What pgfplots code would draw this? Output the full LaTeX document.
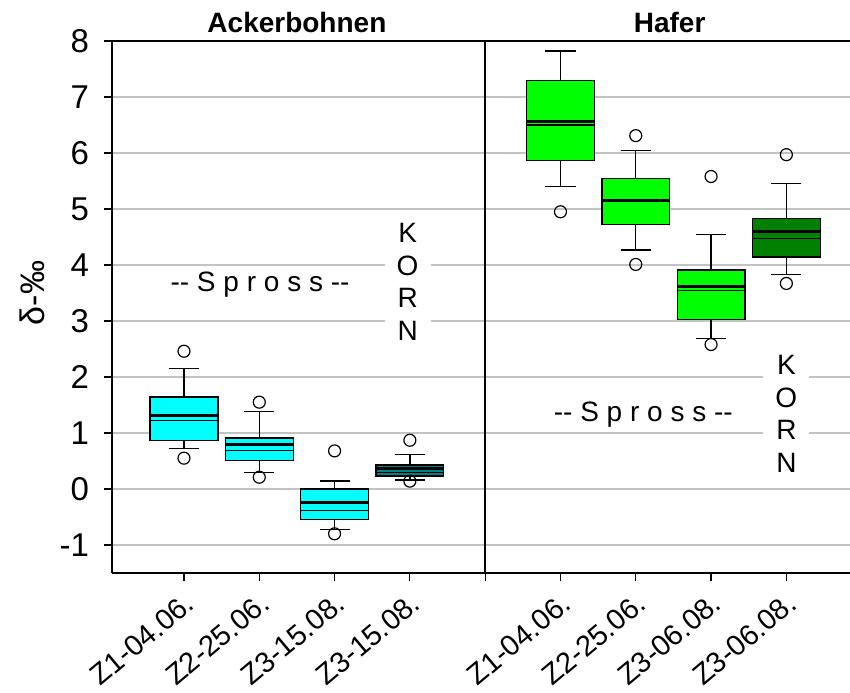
\documentclass[border=0pt]{standalone}
\usepackage{fontspec}
\setmainfont{Liberation Sans}
\usepackage{pgfplots}
\pgfplotsset{compat=1.18}
\usepgfplotslibrary{statistics}
\usetikzlibrary{calc}
\definecolor{cyanbox}{RGB}{0,255,255}
\definecolor{tealbox}{RGB}{0,128,128}
\definecolor{greenbox}{RGB}{0,255,0}
\definecolor{dgreenbox}{RGB}{0,128,0}
\definecolor{gridgray}{RGB}{195,195,195}
\pgfplotsset{mybox/.style={draw=black, line width=0.65pt, fill=#1, mark=o, mark size=3pt,
  mark options={fill=none, draw=black, line width=0.6pt, solid}}}
\begin{document}
\begin{tikzpicture}
\begin{axis}[
  scale only axis, width=369pt, height=266pt,
  xmin=-0.956, xmax=8.845, ymin=-1.5, ymax=8,
  axis x line*=bottom, axis y line*=left,
  axis line style={-, line width=0.7pt, black},
  x axis line style={-}, y axis line style={-},
  xtick={0,1,2,3,4,5,6,7,8},
  xticklabels={Z1-04.06.,Z2-25.06.,Z3-15.08.,Z3-15.08.,,Z1-04.06.,Z2-25.06.,Z3-06.08.,Z3-06.08.},
  ytick={-1,0,1,2,3,4,5,6,7,8},
  tick align=outside, major tick length=4pt,
  tick style={black, line width=0.6pt},
  ymajorgrids, major grid style={gridgray, line width=0.6pt},
  /pgf/number format/assume math mode=true,
  yticklabel style={font=\fontsize{16.5}{18}\selectfont, xshift=-4pt},
  xticklabel style={font=\fontsize{14.5}{16}\selectfont, rotate=40, anchor=north east, inner sep=0.5pt, xshift=-3pt, yshift=-3pt},
  boxplot/draw direction=y,
  boxplot/box extend=0.9,
  boxplot/whisker extend=0.4,
  boxplot/every median/.style={line width=1.5pt},
  boxplot/draw/average/.code={\draw[line width=0.6pt] (boxplot box cs:\pgfplotsboxplotvalue{average},0) -- (boxplot box cs:\pgfplotsboxplotvalue{average},1);},
  clip=false,
]
% Ackerbohnen
\addplot[mybox=cyanbox, boxplot prepared={draw position=0, lower whisker=0.72, lower quartile=0.87, median=1.32, average=1.23, upper quartile=1.64, upper whisker=2.15}]
  table[row sep=\\, y index=0] {data\\ 2.46\\ 0.55\\};
\addplot[mybox=cyanbox, boxplot prepared={draw position=1, lower whisker=0.29, lower quartile=0.51, median=0.79, average=0.69, upper quartile=0.91, upper whisker=1.38}]
  table[row sep=\\, y index=0] {data\\ 1.55\\ 0.21\\};
\addplot[mybox=cyanbox, boxplot prepared={draw position=2, lower whisker=-0.72, lower quartile=-0.55, median=-0.24, average=-0.38, upper quartile=0.00, upper whisker=0.14}]
  table[row sep=\\, y index=0] {data\\ 0.68\\ -0.80\\};
\addplot[mybox=tealbox, boxplot prepared={draw position=3, lower whisker=0.16, lower quartile=0.23, median=0.36, average=0.29, upper quartile=0.43, upper whisker=0.61}]
  table[row sep=\\, y index=0] {data\\ 0.87\\ 0.14\\};
% Hafer
\addplot[mybox=greenbox, boxplot prepared={draw position=5, lower whisker=5.40, lower quartile=5.87, median=6.57, average=6.50, upper quartile=7.29, upper whisker=7.82}]
  table[row sep=\\, y index=0] {data\\ 4.95\\};
\addplot[mybox=greenbox, boxplot prepared={draw position=6, lower whisker=4.27, lower quartile=4.72, median=5.15, average=5.15, upper quartile=5.54, upper whisker=6.04}]
  table[row sep=\\, y index=0] {data\\ 6.31\\ 4.01\\};
\addplot[mybox=greenbox, boxplot prepared={draw position=7, lower whisker=2.69, lower quartile=3.03, median=3.62, average=3.55, upper quartile=3.91, upper whisker=4.54}]
  table[row sep=\\, y index=0] {data\\ 5.58\\ 2.58\\};
\addplot[mybox=dgreenbox, boxplot prepared={draw position=8, lower whisker=3.83, lower quartile=4.14, median=4.59, average=4.47, upper quartile=4.83, upper whisker=5.45}]
  table[row sep=\\, y index=0] {data\\ 5.97\\ 3.67\\};
% frame
\draw[black, line width=0.7pt] (axis cs:-0.956,8) -- (axis cs:8.845,8);
\draw[black, line width=0.7pt] (axis cs:4,-1.5) -- (axis cs:4,8);
% titles
\node[font=\bfseries\fontsize{14}{16}\selectfont, anchor=base, yshift=4pt] at (axis cs:1.5,8) {Ackerbohnen};
\node[font=\bfseries\fontsize{14}{16}\selectfont, anchor=base, yshift=4pt] at (axis cs:6.45,8) {Hafer};
% annotations
\node[font=\fontsize{14}{16}\selectfont, anchor=base, yshift=-5pt] at (axis cs:1.01,3.70) {-{}- S p r o s s -{}-};
\node[font=\fontsize{14}{16}\selectfont, anchor=base, yshift=-5pt] at (axis cs:6.1,1.38) {-{}- S p r o s s -{}-};
\node[font=\fontsize{14}{16.2}\selectfont, fill=white, align=center, inner xsep=6pt, inner ysep=2pt] at (axis cs:2.97,3.70) {K\\O\\R\\N};
\node[font=\fontsize{14}{16.2}\selectfont, fill=white, align=center, inner xsep=6pt, inner ysep=2pt] at (axis cs:8.0,1.34) {K\\O\\R\\N};
% y label
\node[font=\fontsize{17}{18}\selectfont, rotate=90, anchor=center] at ($(axis cs:-0.956,3.5)+(-40pt,0pt)$) {δ-‰};
\end{axis}
\pgfresetboundingbox
\path ($(current axis.south west)+(-56pt,-60pt)$) rectangle ($(current axis.north east)+(0pt,20.5pt)$);
\end{tikzpicture}
\end{document}
